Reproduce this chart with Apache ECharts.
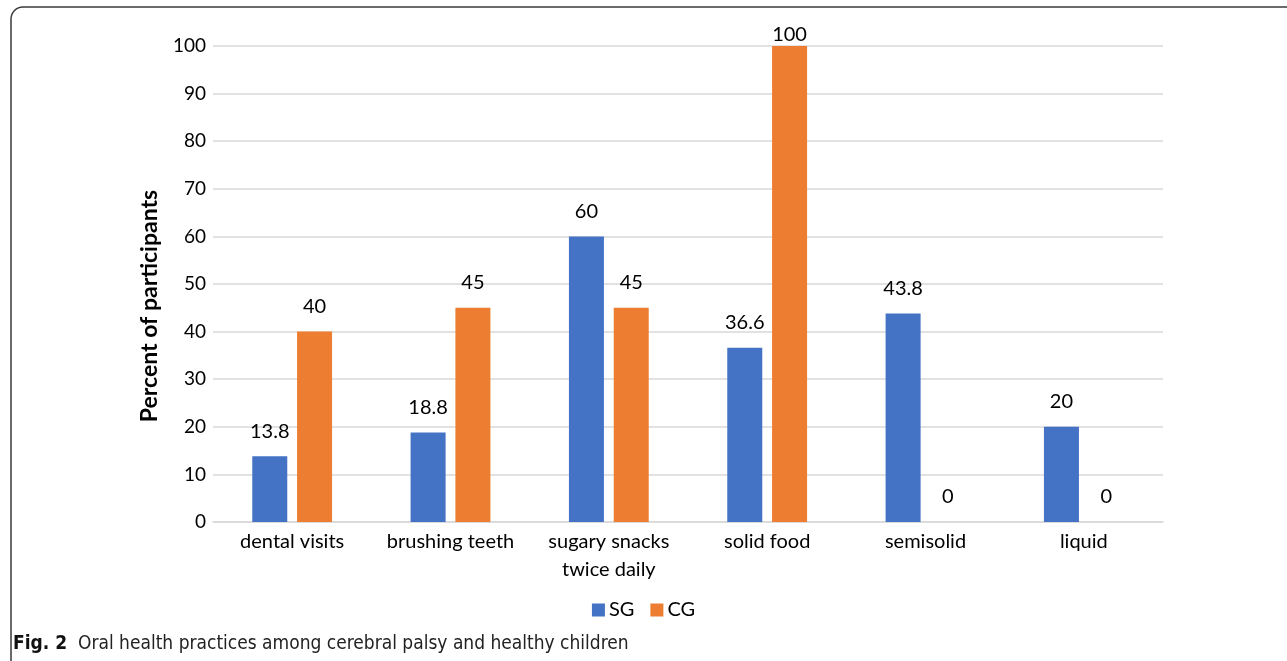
<!DOCTYPE html>
<html>
<head>
<meta charset="utf-8">
<title>Oral health practices</title>
<script src="https://cdn.jsdelivr.net/npm/echarts@6/dist/echarts.min.js"></script>
<style>
  html, body { margin: 0; padding: 0; background: #fff; }
  #chart { width: 1287px; height: 661px; }
</style>
</head>
<body>
<div id="chart"></div>
<script>
// Practice categories along the x axis
const categories = ['dental visits', 'brushing teeth', 'sugary snacks\ntwice daily', 'solid food', 'semisolid', 'liquid'];
// Percent of participants per group
const sgValues = [13.8, 18.8, 60, 36.6, 43.8, 20];
const cgValues = [40, 45, 45, 100, 0, 0];
// Y axis ticks
const yTicks = [0, 10, 20, 30, 40, 50, 60, 70, 80, 90, 100];

const FONT = 'Lato, "Open Sans", sans-serif';
const chart = echarts.init(document.getElementById('chart'), null, { renderer: 'canvas' });

// Labels that would run past the top of the plot sit closer to their bar
function withLabels(values) {
  return values.map(v => v >= 100 ? { value: v, label: { distance: 1 } } : v);
}

const labelStyle = {
  show: true,
  position: 'top',
  distance: 15,
  color: '#000',
  fontFamily: FONT,
  fontSize: 20
};

chart.setOption({
  animation: false,
  textStyle: { fontFamily: FONT },
  grid: { left: 213, right: 124, top: 46, bottom: 139, containLabel: false },
  legend: {
    data: ['SG', 'CG'],
    top: 595,
    left: 'center',
    itemWidth: 13,
    itemHeight: 13,
    itemGap: 16,
    icon: 'rect',
    textStyle: { fontSize: 20, color: '#000', fontFamily: FONT, padding: [0, 0, 0, -1] }
  },
  xAxis: {
    type: 'category',
    data: categories,
    axisLine: { lineStyle: { color: '#d9d9d9', width: 1.5 } },
    axisTick: { show: false },
    axisLabel: { color: '#000', fontSize: 20, fontFamily: FONT, margin: 6, lineHeight: 28, interval: 0 }
  },
  yAxis: {
    type: 'value',
    min: yTicks[0],
    max: yTicks[yTicks.length - 1],
    interval: yTicks[1] - yTicks[0],
    axisLine: { show: false },
    axisTick: { show: false },
    axisLabel: { color: '#000', fontSize: 19, fontFamily: FONT, margin: 7 },
    splitLine: { lineStyle: { color: '#d9d9d9', width: 1.5 } }
  },
  series: [
    {
      name: 'SG', type: 'bar', data: withLabels(sgValues),
      barWidth: 35, barGap: '28%',
      itemStyle: { color: '#4472C4' },
      label: labelStyle
    },
    {
      name: 'CG', type: 'bar', data: withLabels(cgValues),
      barWidth: 35, barGap: '28%',
      itemStyle: { color: '#ED7D31' },
      label: labelStyle
    }
  ],
  graphic: [
    {
      type: 'rect',
      shape: { x: 11, y: 7, width: 1300, height: 720, r: 12 },
      style: { fill: 'none', stroke: '#3a3a3a', lineWidth: 1.5 },
      silent: true
    },
    {
      type: 'text',
      x: 150, y: 306,
      rotation: Math.PI / 2,
      style: {
        text: 'Percent of participants',
        fill: '#000',
        font: 'bold 23px ' + FONT,
        align: 'center',
        verticalAlign: 'middle'
      }
    },
    {
      type: 'text',
      left: 13, top: 635,
      style: {
        rich: {
          b: { fontWeight: 'bold', fontSize: 19, fontFamily: '"DejaVu Sans Condensed", sans-serif', fill: '#111' },
          n: { fontSize: 19, fontFamily: '"DejaVu Sans Condensed", sans-serif', fill: '#222' }
        },
        text: '{b|Fig. 2}{n|  Oral health practices among cerebral palsy and healthy children}'
      }
    }
  ]
});
</script>
</body>
</html>
